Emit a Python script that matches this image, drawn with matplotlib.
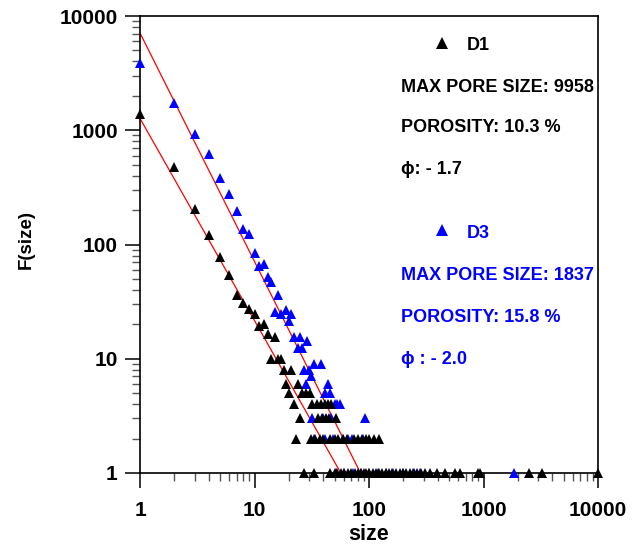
import numpy as np
import matplotlib
matplotlib.use("Agg")
import matplotlib.pyplot as plt
from matplotlib.ticker import FixedLocator, FixedFormatter, LogLocator, NullFormatter

plt.rcParams['font.family'] = ['Liberation Sans', 'DejaVu Sans']
plt.rcParams['font.weight'] = 'bold'

# D1 (black) pore size distribution: size, F(size)
d1_size = [1, 2, 3, 4, 5, 6, 7, 8, 9, 10, 11, 12, 13, 15, 14, 16, 17,
           18, 21, 19, 24, 20, 26, 28, 30.5,
           22, 32, 35, 38, 41, 44, 47,
           25, 35.5, 38.5, 42, 45, 52,
           23, 31, 34, 37, 40, 46, 50, 54, 59, 64, 74, 80, 86, 94, 101, 110, 123,
           27, 33, 46, 50, 53, 57, 61, 66, 70, 75, 80, 85, 90, 95, 101, 108,
           115, 122, 130, 140, 150, 160, 172, 185, 198, 212, 228, 245, 263,
           285, 310, 340, 390, 463, 565, 625, 900, 930, 2480, 3220, 9958]
d1_count = [1380, 477, 204, 121, 77, 54, 36, 31, 27, 24.5, 19.4, 20, 16.4, 15.4, 10, 10, 10,
            8, 8, 6, 6, 5, 5, 5, 5,
            4, 4, 4, 4, 4, 4, 4,
            3, 3, 3, 3, 3, 3,
            2, 2, 2, 2, 2, 2, 2, 2, 2, 2, 2, 2, 2, 2, 2, 2, 2,
            1, 1, 1, 1, 1, 1, 1, 1, 1, 1, 1, 1, 1, 1, 1, 1,
            1, 1, 1, 1, 1, 1, 1, 1, 1, 1, 1, 1, 1,
            1, 1, 1, 1, 1, 1, 1, 1, 1, 1, 1, 1]

# D3 (blue) pore size distribution
d3_size = [1, 2, 3, 4, 5, 6, 7, 8, 9, 10, 11, 12, 13, 14, 16,
           15, 17, 19, 21, 20, 22, 25, 29, 24, 26,
           33, 38, 27, 30, 31, 28, 44, 41, 45.5,
           50, 53, 56, 32, 40, 47, 93,
           33, 41, 48, 59, 66, 71, 89,
           52, 60, 72, 85, 100, 120, 140, 162, 200, 243, 280, 1837]
d3_count = [3900, 1720, 933, 620, 380, 277, 196, 136, 124, 84, 65, 67, 52, 47, 36,
            25.7, 24.5, 26.7, 24.5, 21.3, 15.4, 15.4, 14.3, 12.3, 12.3,
            9, 9, 8, 8, 7, 6, 6, 5, 5,
            4, 4, 4, 3, 3, 3, 3,
            2, 2, 2, 2, 2, 2, 2,
            1, 1, 1, 1, 1, 1, 1, 1, 1, 1, 1, 1]

# power-law fits F = a * size^-b
d1_fit = (1270, 1.77)
d3_fit = (7100, 2.0)

fig = plt.figure(figsize=(6.41, 5.45), dpi=100)
ax = fig.add_axes([140 / 641, 1 - 473 / 545, 458 / 641, 457 / 545])

fx = np.array([1, 1e4])
ax.plot(fx, d1_fit[0] * fx ** -d1_fit[1], color='red', lw=0.9, zorder=2)
ax.plot(fx, d3_fit[0] * fx ** -d3_fit[1], color='red', lw=0.9, zorder=2)

ax.plot(d3_size, d3_count, '^', color='blue', ms=7.5, mew=0, clip_on=False, zorder=3)
ax.plot(d1_size, d1_count, '^', color='black', ms=7.5, mew=0, clip_on=False, zorder=4)

ax.set_xscale('log')
ax.set_yscale('log')
ax.set_xlim(1, 10000)
ax.set_ylim(1, 10000)

decades = [1, 10, 100, 1000, 10000]
labels = ['1', '10', '100', '1000', '10000']
for axis in (ax.xaxis, ax.yaxis):
    axis.set_major_locator(FixedLocator(decades))
    axis.set_major_formatter(FixedFormatter(labels))
    axis.set_minor_locator(LogLocator(base=10, subs=np.arange(2, 10)))
    axis.set_minor_formatter(NullFormatter())

ax.tick_params(which='major', direction='out', length=11, width=1.1, labelsize=15)
ax.tick_params(which='minor', direction='out', length=6, width=1.0, color='#555555')
ax.tick_params(axis='x', pad=9)
ax.tick_params(axis='y', pad=5)
for s in ax.spines.values():
    s.set_linewidth(1.2)

ax.set_xlabel('size', fontsize=15.5, fontweight='bold', labelpad=3)
ax.set_ylabel('F(size)', fontsize=13.5, fontweight='bold')
ax.yaxis.set_label_coords(-0.23, 0.51)


def ftext(px, py, s, color, **kw):
    fig.text(px / 641, 1 - py / 545, s, color=color, fontsize=13, fontweight='bold',
             va='center', ha='left', **kw)


fig.add_artist(plt.Line2D([441.7 / 641], [1 - 42.7 / 545], marker='^', color='black',
                          ms=9, mew=0, transform=fig.transFigure))
ftext(467, 45, 'D1', 'black')
ftext(401, 87, 'MAX PORE SIZE: 9958', 'black')
ftext(401, 128, 'POROSITY: 10.3 %', 'black')
ftext(401, 170, '\u03d5: - 1.7', 'black')

fig.add_artist(plt.Line2D([442.3 / 641], [1 - 230 / 545], marker='^', color='blue',
                          ms=9, mew=0, transform=fig.transFigure))
ftext(467, 234, 'D3', 'blue')
ftext(401, 276, 'MAX PORE SIZE: 1837', 'blue')
ftext(401, 318, 'POROSITY: 15.8 %', 'blue')
ftext(401, 359, '\u03d5 : - 2.0', 'blue')

fig.savefig('out.png', dpi=100)
